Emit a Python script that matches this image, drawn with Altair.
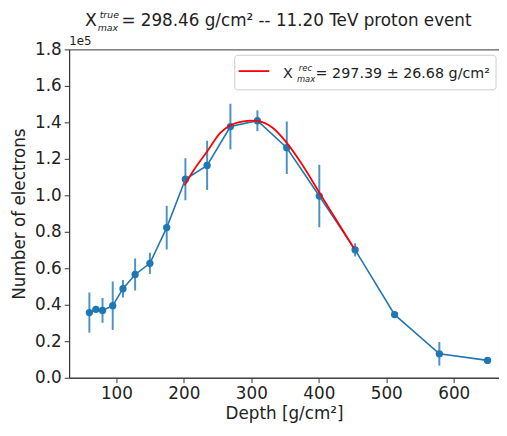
import altair as alt
import pandas as pd

# ---- data ----
depth = [60, 69.7, 79.5, 94.6, 109.8, 127.8, 149.7, 174.6, 202.3, 234.5,
         269, 309, 352.5, 400.7, 453.8, 512.3, 578.6, 650]
electrons = [35700, 37500, 36900, 39500, 48800, 56600, 62700, 82300, 108800, 116400,
             137700, 140900, 126100, 99600, 70100, 34600, 13100, 9500]
errors = [11000, 1000, 6800, 13300, 4800, 8800, 5800, 12000, 11500, 13500,
          12500, 5700, 14400, 17100, 3600, 1000, 6500, 500]

fit_depth = [201, 215, 235, 254, 269, 288, 298, 308, 332, 352, 375, 400, 425, 452]
fit_electrons = [105400, 114000, 124300, 134200, 138400, 140500, 141000, 140800,
                 136900, 129000, 117000, 102000, 87000, 71000]

x_ticks = [100, 200, 300, 400, 500, 600]
y_ticks = [0, 20000, 40000, 60000, 80000, 100000, 120000, 140000, 160000, 180000]

BLUE = "#1f77b4"
FONT = "DejaVu Sans"
W, H = 436, 333

df = pd.DataFrame({"depth": depth, "n": electrons, "err": errors})
df["lo"] = df["n"] - df["err"]
df["hi"] = df["n"] + df["err"]
fit = pd.DataFrame({"depth": fit_depth, "n": fit_electrons})

xs = alt.Scale(domain=[30, 667], nice=False, zero=False)
ys = alt.Scale(domain=[0, 180000], nice=False)

common = dict(grid=False, labelFontSize=17, titleFontSize=17, tickSize=5, labelPadding=3,
              titleFontWeight="normal", labelFont=FONT, titleFont=FONT, labelOverlap=False,
              labelColor="#222", titleColor="#222", domainColor="#333", tickColor="#333")
xax = alt.Axis(values=x_ticks, title="Depth [g/cm²]", titlePadding=4, **common)
yax = alt.Axis(values=y_ticks, tickCount=10, title="Number of electrons", titlePadding=6,
               labelExpr="format(datum.value / 100000, '.1f')", **common)

X = alt.X("depth:Q", scale=xs, axis=xax, title="Depth [g/cm²]")

base = alt.Chart(df)

bars = base.mark_rule(color=BLUE, strokeWidth=2, opacity=0.8).encode(
    x=X,
    y=alt.Y("lo:Q", scale=ys, axis=yax, title="Number of electrons"),
    y2="hi:Q",
)
line = base.mark_line(color=BLUE, strokeWidth=1.6).encode(
    x=X, y=alt.Y("n:Q", scale=ys, axis=yax, title="Number of electrons"))
pts = base.mark_circle(color=BLUE, size=55, opacity=1).encode(
    x=X, y=alt.Y("n:Q", scale=ys, axis=yax, title="Number of electrons"))
red = alt.Chart(fit).mark_line(color="red", strokeWidth=1.8, interpolate="monotone").encode(
    x=X, y=alt.Y("n:Q", scale=ys, axis=yax, title="Number of electrons"))

one = pd.DataFrame({"a": [0]})


def txt(s, x, y, size, italic=False, color="#222"):
    return alt.Chart(one).mark_text(text=s, fontSize=size, font=FONT, color=color,
                                    fontStyle="italic" if italic else "normal",
                                    align="left", baseline="alphabetic").encode(
        x=alt.value(x), y=alt.value(y))


legend_box = alt.Chart(one).mark_rect(fill="white", fillOpacity=0.8, stroke="#cccccc",
                                      strokeWidth=1, cornerRadius=3).encode(
    x=alt.value(168), x2=alt.value(433), y=alt.value(6), y2=alt.value(41))
legend_line = alt.Chart(one).mark_rule(color="red", strokeWidth=1.8).encode(
    x=alt.value(172), x2=alt.value(203), y=alt.value(22))

annots = [
    # title
    txt("X", 16, -24, 17.5),
    txt("true", 31, -32, 9.5, italic=True),
    txt("max", 29, -19, 9.5, italic=True),
    txt("= 298.46 g/cm² -- 11.20 TeV proton event", 53, -24, 17),
    # offset text
    txt("1e5", 0, -4, 12),
    # legend
    txt("X", 217, 29, 14.5),
    txt("rec", 233, 22, 8.5, italic=True),
    txt("max", 231, 33, 8.5, italic=True),
    txt("= 297.39 ± 26.68 g/cm²", 250, 29, 14.5),
]

chart = alt.layer(bars, line, pts, red, legend_box, legend_line, *annots).properties(
    width=W, height=H,
    autosize=alt.AutoSizeParams(type="none"),
    padding={"left": 62, "top": 39, "right": 0, "bottom": 48},
).configure_view(stroke="#333", strokeWidth=1)

chart.save("out.html", embed_options={"renderer": "svg", "actions": False})
